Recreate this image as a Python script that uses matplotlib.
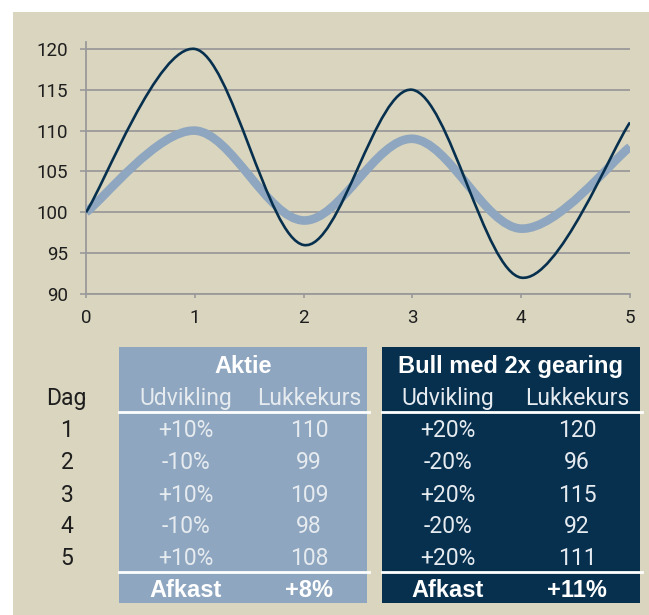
import matplotlib
matplotlib.use('Agg')
import matplotlib.pyplot as plt
from matplotlib.path import Path
from matplotlib.patches import PathPatch, Rectangle

# ── data ────────────────────────────────────────────────────────────────
days = [0, 1, 2, 3, 4, 5]
aktie = [100, 110, 99, 109, 98, 108]
bull = [100, 120, 96, 115, 92, 111]

row_days = ['1', '2', '3', '4', '5']
aktie_chg = ['+10%', '-10%', '+10%', '-10%', '+10%']
aktie_close = ['110', '99', '109', '98', '108']
bull_chg = ['+20%', '-20%', '+20%', '-20%', '+20%']
bull_close = ['120', '96', '115', '92', '111']
aktie_ret = '+8%'
bull_ret = '+11%'

yticks = [90, 95, 100, 105, 110, 115, 120]
xticks = [0, 1, 2, 3, 4, 5]

BEIGE = '#d9d5be'
LIGHT = '#8ea6bf'
DARK = '#07304f'
GRID = '#9a9a9a'
SOFT = '#e6ebf0'
INK = '#1e1e1e'

plt.rcParams['font.family'] = ['Roboto', 'DejaVu Sans']
BOLD = ['Liberation Sans', 'DejaVu Sans']
W, H = 649, 615
fig = plt.figure(figsize=(W / 100, H / 100), dpi=100, facecolor='white')

# beige panel behind everything
fig.patches.append(Rectangle((13 / W, 0), 1, 1 - 12 / H, transform=fig.transFigure,
                             facecolor=BEIGE, edgecolor='none', zorder=-5))


def smooth_path(xs, ys):
    """Excel-style smoothed line as cubic bezier segments through the points."""
    px = [xs[0]] + list(xs) + [xs[-1]]
    py = [ys[0]] + list(ys) + [ys[-1]]
    verts = [(xs[0], ys[0])]
    codes = [Path.MOVETO]
    for i in range(1, len(xs)):
        c1 = (px[i] + (px[i + 1] - px[i - 1]) / 6, py[i] + (py[i + 1] - py[i - 1]) / 6)
        c2 = (px[i + 1] - (px[i + 2] - px[i]) / 6, py[i + 1] - (py[i + 2] - py[i]) / 6)
        verts += [c1, c2, (px[i + 1], py[i + 1])]
        codes += [Path.CURVE4] * 3
    return Path(verts, codes)


# ── line chart ──────────────────────────────────────────────────────────
ax = fig.add_axes([86 / W, 1 - 294 / H, (630 - 86) / W, (294 - 42) / H])
ax.set_facecolor('none')
ax.set_xlim(0, 5)
ax.set_ylim(90, 120.85)
ax.add_patch(PathPatch(smooth_path(days, aktie), facecolor='none', edgecolor=LIGHT,
                       lw=6.2, capstyle='butt', zorder=3))
ax.add_patch(PathPatch(smooth_path(days, bull), facecolor='none', edgecolor=DARK,
                       lw=1.9, capstyle='butt', zorder=4))
ax.set_yticks(yticks)
ax.set_xticks(xticks)
ax.grid(axis='y', color=GRID, lw=1.3)
ax.set_axisbelow(True)
for s in ['top', 'right']:
    ax.spines[s].set_visible(False)
for s in ['left', 'bottom']:
    ax.spines[s].set_color(GRID)
    ax.spines[s].set_linewidth(1.3)
ax.tick_params(axis='y', length=4.3, width=1.2, color=GRID, pad=8.5, labelsize=13.5,
               labelcolor=INK)
ax.tick_params(axis='x', length=3, width=1.2, color=GRID, pad=8, labelsize=13.5,
               labelcolor=INK)

# ── tables (pixel layout overlay) ───────────────────────────────────────
lay = fig.add_axes([0, 0, 1, 1])
lay.set_xlim(0, W)
lay.set_ylim(H, 0)
lay.axis('off')
lay.patch.set_alpha(0)

tables = [
    dict(x0=119, x1=367, bg=LIGHT, title='Aktie', c1=186, c2=309,
         chg=aktie_chg, close=aktie_close, ret=aktie_ret),
    dict(x0=382, x1=640, bg=DARK, title='Bull med 2x gearing', c1=448, c2=577,
         chg=bull_chg, close=bull_close, ret=bull_ret),
]
row_base = [437, 469, 501.5, 533, 565]
fs = 16.5
fsb = 17

for t in tables:
    lay.add_patch(Rectangle((t['x0'], 347), t['x1'] - t['x0'], 603 - 347,
                            facecolor=t['bg'], edgecolor='none'))
    lay.plot([t['x0'], t['x1'] + 2], [412, 412], color='white', lw=2)
    lay.plot([t['x0'], t['x1'] + 2], [572, 572], color='white', lw=2)
    lay.text((t['x0'] + t['x1']) / 2, 373, t['title'], ha='center', va='baseline',
             color='white', fontsize=fsb, fontweight='bold', family=BOLD)
    lay.text(t['c1'], 405, 'Udvikling', ha='center', va='baseline', color=SOFT,
             fontsize=fs)
    lay.text(t['c2'], 405, 'Lukkekurs', ha='center', va='baseline', color=SOFT,
             fontsize=fs)
    for yb, a, b in zip(row_base, t['chg'], t['close']):
        lay.text(t['c1'], yb, a, ha='center', va='baseline', color=SOFT, fontsize=fs)
        lay.text(t['c2'], yb, b, ha='center', va='baseline', color=SOFT, fontsize=fs)
    lay.text(t['c1'], 597, 'Afkast', ha='center', va='baseline', color='white',
             fontsize=fsb, fontweight='bold', family=BOLD)
    lay.text(t['c2'], 597, t['ret'], ha='center', va='baseline', color='white',
             fontsize=fsb, fontweight='bold', family=BOLD)

lay.text(66, 405, 'Dag', ha='center', va='baseline', color=INK, fontsize=fs)
for yb, d in zip(row_base, row_days):
    lay.text(67, yb, d, ha='center', va='baseline', color=INK, fontsize=fs)

fig.savefig('out.png', dpi=100, facecolor='white')
